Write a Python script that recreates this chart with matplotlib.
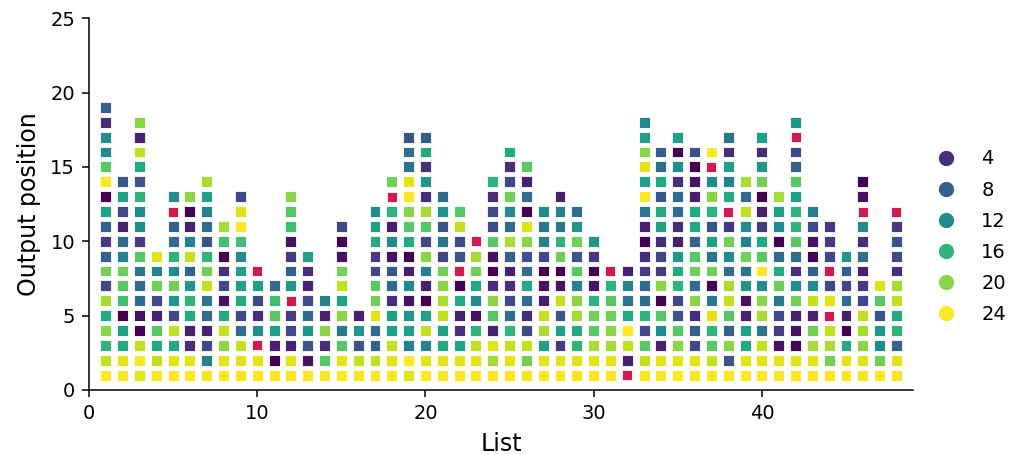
import matplotlib
matplotlib.use("Agg")
import matplotlib.pyplot as plt
from matplotlib.lines import Line2D
from matplotlib.colors import Normalize
import numpy as np

# Values per list (bottom -> top). 0 marks an item drawn in red.
lists_01_12 = [
    [24, 22, 16, 20, 15, 21, 6, 19, 8, 5, 8, 14, 1, 24, 18, 12, 12, 4, 8],
    [24, 23, 15, 14, 1, 17, 18, 19, 11, 9, 3, 6, 14, 7],
    [23, 24, 22, 1, 2, 9, 9, 10, 18, 5, 12, 12, 16, 7, 15, 22, 3, 20],
    [24, 22, 15, 18, 3, 6, 19, 11, 23],
    [24, 23, 15, 22, 6, 13, 19, 12, 16, 9, 8, 0, 12],
    [24, 23, 4, 3, 15, 16, 13, 8, 22, 11, 3, 1, 20],
    [24, 11, 6, 3, 9, 10, 22, 19, 16, 7, 9, 11, 14, 21],
    [24, 23, 20, 22, 15, 2, 6, 4, 1, 17, 21],
    [24, 23, 22, 9, 6, 15, 14, 14, 12, 17, 24, 23, 6],
    [24, 23, 0, 12, 4, 6, 14, 0],
    [24, 1, 3, 14, 18, 17, 9],
    [24, 23, 3, 6, 5, 0, 13, 8, 5, 2, 17, 18, 20],
]
lists_13_24 = [
    [24, 2, 7, 13, 9, 6, 3, 4, 14],
    [24, 18, 4, 20, 3, 11],
    [24, 23, 18, 10, 20, 14, 22, 19, 2, 1, 6],
    [24, 22, 7, 13, 3],
    [24, 22, 8, 9, 23, 19, 18, 6, 5, 15, 14, 12],
    [24, 23, 22, 14, 14, 4, 9, 7, 2, 12, 3, 16, 0, 19],
    [23, 24, 11, 14, 13, 2, 12, 3, 1, 15, 18, 20, 24, 23, 10, 9, 7],
    [24, 23, 11, 22, 14, 1, 3, 11, 20, 6, 18, 21, 4, 13, 4, 15, 8],
    [24, 23, 15, 14, 22, 21, 20, 19, 6, 10, 7, 13, 9],
    [24, 23, 14, 4, 3, 15, 1, 0, 7, 6, 22, 18],
    [24, 23, 22, 16, 2, 12, 15, 19, 21, 0],
    [24, 21, 23, 3, 18, 20, 4, 1, 2, 18, 6, 6, 4, 16],
]
lists_25_36 = [
    [24, 23, 22, 16, 9, 6, 4, 3, 8, 21, 9, 12, 19, 6, 4, 15],
    [24, 19, 22, 6, 4, 9, 15, 9, 7, 20, 23, 1, 9, 3, 18],
    [24, 23, 14, 21, 22, 3, 2, 1, 6, 11, 10, 12],
    [24, 23, 5, 14, 7, 22, 2, 1, 19, 16, 10, 11, 3],
    [24, 23, 16, 15, 21, 20, 11, 18, 7, 19, 13, 9],
    [24, 23, 21, 18, 19, 16, 2, 1, 5, 13],
    [24, 23, 21, 20, 19, 18, 16, 0],
    [0, 3, 22, 24, 15, 10, 11, 3],
    [24, 22, 18, 6, 16, 9, 9, 5, 4, 1, 3, 10, 24, 14, 23, 20, 14, 12],
    [24, 23, 3, 12, 18, 1, 20, 5, 6, 4, 14, 15, 7, 15, 9, 8],
    [24, 23, 20, 18, 7, 6, 16, 15, 13, 3, 4, 9, 9, 4, 12, 1, 14],
    [24, 23, 6, 8, 4, 20, 9, 19, 18, 8, 15, 15, 3, 2, 1, 7],
]
lists_37_48 = [
    [24, 22, 18, 16, 23, 10, 1, 19, 10, 14, 7, 16, 20, 12, 0, 24],
    [24, 7, 20, 8, 18, 22, 21, 9, 12, 19, 5, 0, 15, 11, 14, 4, 10],
    [24, 23, 15, 14, 3, 2, 13, 10, 19, 11, 12, 22, 9, 21],
    [24, 23, 22, 10, 21, 20, 12, 24, 18, 15, 5, 3, 1, 19, 13, 4, 14],
    [24, 23, 2, 5, 6, 10, 19, 15, 9, 1, 12, 14, 21],
    [24, 23, 1, 2, 3, 19, 12, 4, 9, 18, 16, 16, 14, 18, 8, 6, 0, 13],
    [24, 23, 21, 19, 3, 22, 12, 8, 1, 2, 6, 11],
    [24, 19, 21, 22, 0, 23, 6, 0, 6, 5, 5],
    [24, 23, 15, 1, 3, 9, 6, 8, 13],
    [24, 23, 20, 21, 22, 6, 5, 3, 9, 4, 12, 0, 2, 1],
    [24, 19, 12, 13, 7, 18, 23],
    [24, 23, 8, 16, 15, 22, 21, 4, 6, 7, 5, 0],
]
legend_values = [4, 8, 12, 16, 20, 24]
x_ticks = [0, 10, 20, 30, 40]
y_ticks = [0, 5, 10, 15, 20, 25]

all_lists = lists_01_12 + lists_13_24 + lists_25_36 + lists_37_48

cmap = plt.get_cmap("viridis")
norm = Normalize(vmin=1, vmax=24)
red = "#d11a4f"

xs, ys, cs, rx, ry = [], [], [], [], []
for i, vals in enumerate(all_lists, start=1):
    for j, v in enumerate(vals, start=1):
        if v == 0:
            rx.append(i); ry.append(j)
        else:
            xs.append(i); ys.append(j); cs.append(v)

fig = plt.figure(figsize=(10.24, 4.55), dpi=100)
ax = fig.add_axes([0.0869, 0.143, 0.805, 0.817])
ax.scatter(xs, ys, c=cs, cmap=cmap, norm=norm, marker="s", s=62,
           edgecolors="white", linewidths=0.6, zorder=3)
ax.scatter(rx, ry, color=red, marker="s", s=62,
           edgecolors="white", linewidths=0.6, zorder=3)

ax.set_xlim(0, 49)
ax.set_ylim(0, 25)
ax.set_xticks(x_ticks)
ax.set_yticks(y_ticks)
ax.tick_params(labelsize=14, length=5, width=1.1, pad=4.9)
for s in ("left", "bottom"):
    ax.spines[s].set_linewidth(1.1)
ax.spines["top"].set_visible(False)
ax.spines["right"].set_visible(False)
ax.set_xlabel("List", fontsize=17, labelpad=6.5)
ax.set_ylabel("Output position", fontsize=17, labelpad=6.5)

handles = [Line2D([], [], marker="o", ls="", color=cmap(norm(v)), markersize=10)
           for v in legend_values]
fig.legend(handles, [str(v) for v in legend_values], loc="center left",
           bbox_to_anchor=(0.888, 0.48), frameon=False, fontsize=14,
           labelspacing=0.62, handletextpad=0.8)

fig.savefig("out.png", dpi=100)
